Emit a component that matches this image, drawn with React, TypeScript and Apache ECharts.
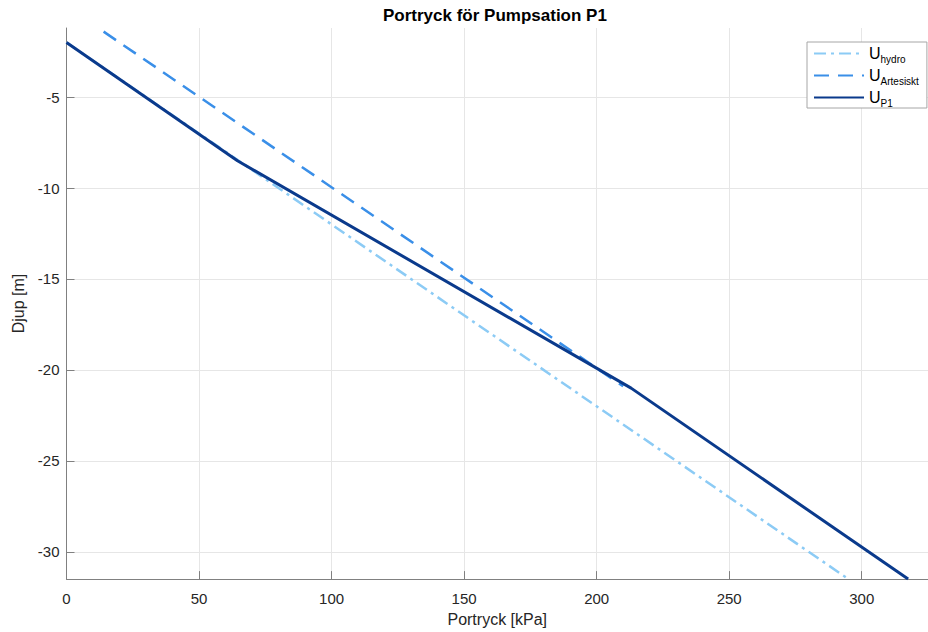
import React, { useEffect, useRef } from "react";
import * as echarts from "echarts";

const titleText = "Portryck för Pumpsation P1";
const xName = "Portryck [kPa]";
const yName = "Djup [m]";
const yTicks = [-30, -25, -20, -15, -10, -5];

// [pressure kPa, depth m]
const hydroPressure = [0, 295];
const hydroDepth = [-2, -31.5];
const artesPressure = [14, 210];
const artesDepth = [-1.4, -20.9];
const p1Pressure = [0, 64.5, 213, 317.5];
const p1Depth = [-2, -8.5, -21, -31.5];

const seriesNames = ["Uhydro", "UArtesiskt", "UP1"];
const seriesSubs = ["hydro", "Artesiskt", "P1"];

const font = "'Liberation Sans', Arial, Helvetica, sans-serif";

function pairs(xs: number[], ys: number[]) {
  return xs.map((x, i) => [x, ys[i]]);
}

export default function App() {
  const ref = useRef<HTMLDivElement>(null);
  useEffect(() => {
    if (!ref.current) return;
    const chart = echarts.init(ref.current, undefined, { renderer: "svg" });
    const axisColor = "#808080";
    const textColor = "#262626";
    const gridColor = "#e6e6e6";
    chart.setOption({
      animation: false,
      backgroundColor: "#ffffff",
      title: {
        text: titleText,
        left: 383,
        top: 7,
        padding: 0,
        textStyle: { fontFamily: font, fontSize: 17, fontWeight: "bold", color: "#000" },
      },
      grid: { left: 66.5, right: 0, top: 28, bottom: 49.7, containLabel: false },
      legend: {
        orient: "vertical",
        left: 807,
        top: 42,
        padding: [3, 8, 0, 6],
        itemWidth: 50,
        itemHeight: 14,
        itemGap: 3,
        borderColor: "#a6a6a6",
        borderWidth: 1,
        backgroundColor: "#fff",
        itemStyle: { opacity: 0 },
        data: seriesNames,
        formatter: (name: string) => {
          const i = seriesNames.indexOf(name);
          return `{u|U}{s|${seriesSubs[i]}}`;
        },
        textStyle: {
          fontFamily: font,
          color: "#000",
          rich: {
            u: { fontFamily: font, fontSize: 16, color: "#000", lineHeight: 15, verticalAlign: "bottom" },
            s: { fontFamily: font, fontSize: 10, color: "#000", lineHeight: 15, verticalAlign: "bottom", padding: [0, 0, -3, 0] },
          },
        },
      },
      xAxis: {
        type: "value",
        min: 0,
        max: 325,
        interval: 50,
        name: xName,
        nameLocation: "middle",
        nameGap: 30,
        nameTextStyle: { fontFamily: font, fontSize: 16, color: textColor },
        axisLine: { show: true, onZero: false, lineStyle: { color: axisColor, width: 1 } },
        axisTick: { show: true, inside: true, length: 8, lineStyle: { color: axisColor } },
        axisLabel: { fontFamily: font, fontSize: 15, color: textColor, margin: 12, showMaxLabel: false },
        splitLine: { show: true, lineStyle: { color: gridColor, width: 1 } },
      },
      yAxis: {
        type: "value",
        min: -31.5,
        max: -1.2,
        name: yName,
        nameLocation: "middle",
        nameGap: 34,
        nameTextStyle: { fontFamily: font, fontSize: 16, color: textColor },
        axisLine: { show: true, onZero: false, lineStyle: { color: axisColor, width: 1 } },
        axisTick: { show: true, inside: true, length: 8, lineStyle: { color: axisColor }, customValues: yTicks },
        axisLabel: { fontFamily: font, fontSize: 15, color: textColor, margin: 7, customValues: yTicks },
        splitLine: { show: true, lineStyle: { color: gridColor, width: 1 } },
      },
      series: [
        {
          name: seriesNames[0],
          type: "line",
          data: pairs(hydroPressure, hydroDepth),
          showSymbol: false,
          symbol: "none",
          lineStyle: { color: "#8ccbf5", width: 2.5, type: [12, 5, 3, 5] },
          itemStyle: { color: "#8ccbf5" },
          z: 2,
        },
        {
          name: seriesNames[1],
          type: "line",
          data: pairs(artesPressure, artesDepth),
          showSymbol: false,
          symbol: "none",
          lineStyle: { color: "#3a8fe8", width: 2.5, type: [15, 9] },
          itemStyle: { color: "#3a8fe8" },
          z: 3,
        },
        {
          name: seriesNames[2],
          type: "line",
          data: pairs(p1Pressure, p1Depth),
          showSymbol: false,
          symbol: "none",
          lineStyle: { color: "#0a3a8c", width: 3 },
          itemStyle: { color: "#0a3a8c" },
          z: 4,
        },
      ],
    });
    return () => chart.dispose();
  }, []);
  return (
    <div
      ref={ref}
      style={{ position: "absolute", left: 0, top: 0, width: 928, height: 632, background: "#fff" }}
    />
  );
}
